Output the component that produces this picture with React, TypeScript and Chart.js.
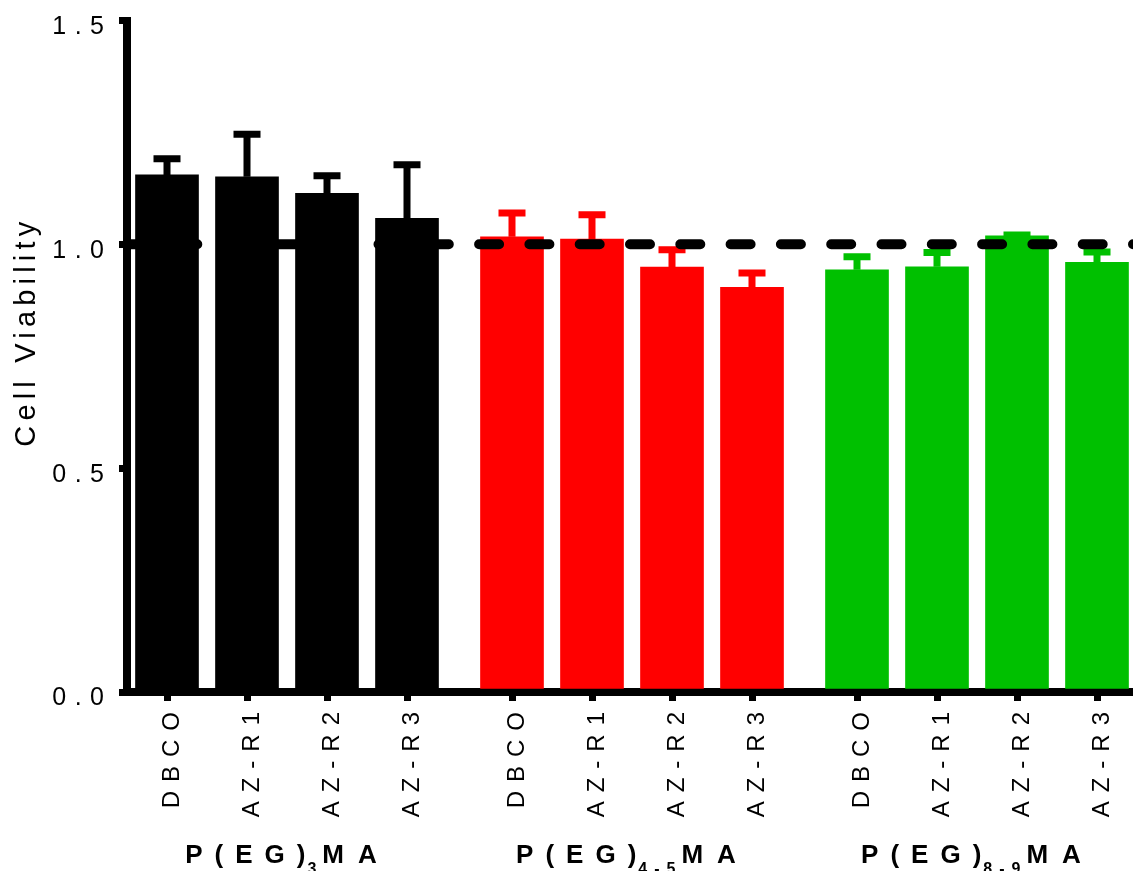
import React, { useEffect, useRef } from 'react';
import Chart from 'chart.js/auto';

// ---------- data ----------
const tickLabels = ['DBCO', 'AZ-R1', 'AZ-R2', 'AZ-R3'];
const groupPrefix = 'P(EG)';
const groupSubscripts = ['3', '4-5', '8-9'];
const groupSuffix = 'MA';
const groupColors = ['#000000', '#FF0000', '#00C000'];

const meanPEG3 = [1.155, 1.151, 1.114, 1.058];
const errPEG3 = [0.036, 0.095, 0.039, 0.12];
const meanPEG45 = [1.017, 1.012, 0.949, 0.904];
const errPEG45 = [0.053, 0.054, 0.039, 0.032];
const meanPEG89 = [0.943, 0.95, 1.019, 0.96];
const errPEG89 = [0.029, 0.032, 0.002, 0.023];

const yTicks = [0, 0.5, 1.0, 1.5];
const referenceLine = 1.0;
const yTitle = 'Cell Viability';

// ---------- layout helpers ----------
const FONT = "'Liberation Sans', Arial, Helvetica, sans-serif";
const GROUP_GAP = 0.3125;
const GROUP_STRIDE = tickLabels.length + GROUP_GAP;
const means = [meanPEG3, meanPEG45, meanPEG89];
const errs = [errPEG3, errPEG45, errPEG89];
const positionsFor = (g: number) => tickLabels.map((_, i) => g * GROUP_STRIDE + i);
const allPositions = means.flatMap((_, g) => positionsFor(g));
const allLabels = means.flatMap(() => tickLabels);
const X_MIN = -0.5;
const X_MAX = allPositions[allPositions.length - 1] + 0.45;

function wrapLabelSpacing(scale: any, spacing: string) {
  if (scale.__lsWrapped) return;
  const orig = scale.drawLabels.bind(scale);
  scale.drawLabels = (area: any) => {
    const c = scale.ctx;
    const prev = c.letterSpacing;
    c.letterSpacing = spacing;
    orig(area);
    c.letterSpacing = prev;
  };
  scale.__lsWrapped = true;
}

const decorPlugin = {
  id: 'decor',
  afterLayout(chart: any) {
    wrapLabelSpacing(chart.scales.x, '9px');
    wrapLabelSpacing(chart.scales.y, '8.5px');
  },
  afterDatasetDraw(chart: any, args: any) {
    const ds = chart.data.datasets[args.index];
    if (!ds.errors) return;
    const ctx = chart.ctx;
    const xs = chart.scales.x;
    const ys = chart.scales.y;
    ctx.save();
    ctx.strokeStyle = ds.backgroundColor;
    ctx.lineWidth = 7;
    ctx.lineCap = 'butt';
    ds.data.forEach((pt: any, i: number) => {
      const x = xs.getPixelForValue(pt.x);
      const y0 = ys.getPixelForValue(pt.y);
      const y1 = ys.getPixelForValue(pt.y + ds.errors[i]);
      ctx.beginPath();
      ctx.moveTo(x, y0);
      ctx.lineTo(x, y1);
      ctx.moveTo(x - 13.5, y1);
      ctx.lineTo(x + 13.5, y1);
      ctx.stroke();
    });
    ctx.restore();
  },
  afterDraw(chart: any) {
    const ctx = chart.ctx;
    const area = chart.chartArea;
    const xs = chart.scales.x;
    ctx.save();
    ctx.fillStyle = '#000';
    // y axis title
    ctx.font = `29px ${FONT}`;
    ctx.letterSpacing = '5.2px';
    const tw = ctx.measureText(yTitle).width - 5.2;
    const cy = (area.top + area.bottom) / 2 - 22;
    ctx.save();
    ctx.translate(35, cy + tw / 2);
    ctx.rotate(-Math.PI / 2);
    ctx.textAlign = 'left';
    ctx.textBaseline = 'alphabetic';
    ctx.fillText(yTitle, 0, 0);
    ctx.restore();

    // group labels
    ctx.textAlign = 'left';
    ctx.textBaseline = 'alphabetic';
    const baseY = 863;
    groupSubscripts.forEach((sub, g) => {
      const pos = positionsFor(g);
      const cx = xs.getPixelForValue((pos[0] + pos[pos.length - 1]) / 2) - 6;
      ctx.font = `bold 26px ${FONT}`;
      ctx.letterSpacing = '12px';
      const w1 = ctx.measureText(groupPrefix).width - 12;
      ctx.font = `bold 16px ${FONT}`;
      ctx.letterSpacing = '7px';
      const w2 = ctx.measureText(sub).width - 7;
      ctx.font = `bold 26px ${FONT}`;
      ctx.letterSpacing = '14px';
      const w3 = ctx.measureText(groupSuffix).width - 14;
      const total = w1 + 2 + w2 + 6 + w3;
      let x = cx - total / 2;
      ctx.font = `bold 26px ${FONT}`;
      ctx.letterSpacing = '12px';
      ctx.fillText(groupPrefix, x, baseY);
      x += w1 + 2;
      ctx.font = `bold 16px ${FONT}`;
      ctx.letterSpacing = '7px';
      ctx.fillText(sub, x, baseY + 11);
      x += w2 + 6;
      ctx.font = `bold 26px ${FONT}`;
      ctx.letterSpacing = '14px';
      ctx.fillText(groupSuffix, x, baseY);
    });
    ctx.restore();
  },
};

export default function App() {
  const canvasRef = useRef<HTMLCanvasElement | null>(null);

  useEffect(() => {
    document.body.style.margin = '0';
    const canvas = canvasRef.current;
    if (!canvas) return;
    Chart.defaults.font.family = FONT;

    const barDatasets = means.map((m, g) => {
      const pos = positionsFor(g);
      return {
        type: 'bar' as const,
        label: `${groupPrefix}${groupSubscripts[g]}${groupSuffix}`,
        data: m.map((v, i) => ({ x: pos[i], y: v })),
        errors: errs[g],
        backgroundColor: groupColors[g],
        borderWidth: 0,
        barThickness: 63,
        grouped: false,
        order: 1,
      };
    });

    const lineDataset = {
      type: 'line' as const,
      label: 'reference',
      data: [
        { x: X_MIN, y: referenceLine },
        { x: X_MAX, y: referenceLine },
      ],
      borderColor: '#000',
      borderWidth: 10,
      borderDash: [20, 30.3],
      borderCapStyle: 'round',
      pointRadius: 0,
      fill: false,
      order: 0,
    };

    const chart = new Chart(canvas, {
      data: { datasets: [...barDatasets, lineDataset] as any },
      options: {
        animation: false,
        responsive: true,
        maintainAspectRatio: false,
        layout: { padding: { top: 20.5, left: 0, right: 0, bottom: 0 } },
        plugins: {
          legend: { display: false },
          tooltip: { enabled: false },
          title: { display: false },
        },
        scales: {
          x: {
            type: 'linear',
            min: X_MIN,
            max: X_MAX,
            offset: false,
            afterBuildTicks: (s: any) => {
              s.ticks = allPositions.map((v) => ({ value: v }));
            },
            afterFit: (s: any) => {
              s.height = 179;
              s.paddingLeft = 0;
              s.paddingRight = 0;
            },
            ticks: {
              autoSkip: false,
              minRotation: 90,
              maxRotation: 90,
              padding: 2,
              labelOffset: 5,
              color: '#000',
              font: { size: 24 },
              callback: (_v: any, i: number) => allLabels[i],
            },
            grid: {
              offset: false,
              drawOnChartArea: false,
              drawTicks: true,
              tickLength: 9,
              tickWidth: 7,
              tickColor: '#000',
              color: '#000',
              lineWidth: 7,
            },
            border: { display: true, color: '#000', width: 8 },
          },
          y: {
            type: 'linear',
            min: 0,
            max: 1.5,
            afterBuildTicks: (s: any) => {
              s.ticks = yTicks.map((v) => ({ value: v }));
            },
            afterFit: (s: any) => {
              s.width = 127;
              s.paddingTop = 0;
              s.paddingBottom = 0;
            },
            ticks: {
              padding: 6.5,
              labelOffset: 6.5,
              color: '#000',
              font: { size: 25 },
              callback: (v: any) => Number(v).toFixed(1),
            },
            grid: {
              drawOnChartArea: false,
              drawTicks: true,
              tickLength: 8,
              tickWidth: 7,
              tickColor: '#000',
              color: '#000',
              lineWidth: 7,
            },
            border: { display: true, color: '#000', width: 8 },
          },
        },
      } as any,
      plugins: [decorPlugin],
    });

    return () => chart.destroy();
  }, []);

  return (
    <div style={{ position: 'relative', width: '1133px', height: '871px' }}>
      <canvas ref={canvasRef} />
    </div>
  );
}
